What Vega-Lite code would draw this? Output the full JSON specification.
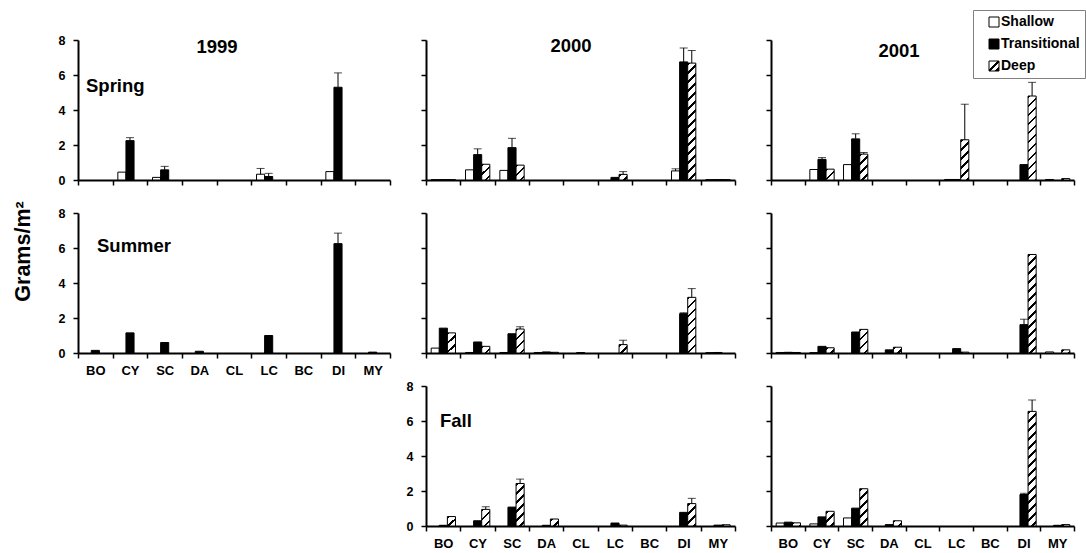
{
  "$schema": "https://vega.github.io/schema/vega-lite/v6.json",
  "background": "white",
  "padding": {"left": 12, "top": 9, "right": 0, "bottom": 0},
  "params": [
    {"name": "legendHatch", "value": {"gradient":"linear","x1":0,"y1":0,"x2":1,"y2":1,"stops":[{"offset":0,"color":"white"},{"offset":0.42,"color":"white"},{"offset":0.42,"color":"black"},{"offset":0.58,"color":"black"},{"offset":0.58,"color":"white"},{"offset":0.78,"color":"white"},{"offset":0.78,"color":"black"},{"offset":1,"color":"black"}]}},
    {"name": "hatchStops", "value": [
      {"offset":0,"color":"#000"},{"offset":0.01875,"color":"#000"},{"offset":0.01875,"color":"#fff"},{"offset":0.0625,"color":"#fff"},
      {"offset":0.0625,"color":"#000"},{"offset":0.08125,"color":"#000"},{"offset":0.08125,"color":"#fff"},{"offset":0.125,"color":"#fff"},
      {"offset":0.125,"color":"#000"},{"offset":0.14375,"color":"#000"},{"offset":0.14375,"color":"#fff"},{"offset":0.1875,"color":"#fff"},
      {"offset":0.1875,"color":"#000"},{"offset":0.20625,"color":"#000"},{"offset":0.20625,"color":"#fff"},{"offset":0.25,"color":"#fff"},
      {"offset":0.25,"color":"#000"},{"offset":0.26875,"color":"#000"},{"offset":0.26875,"color":"#fff"},{"offset":0.3125,"color":"#fff"},
      {"offset":0.3125,"color":"#000"},{"offset":0.33125,"color":"#000"},{"offset":0.33125,"color":"#fff"},{"offset":0.375,"color":"#fff"},
      {"offset":0.375,"color":"#000"},{"offset":0.39375,"color":"#000"},{"offset":0.39375,"color":"#fff"},{"offset":0.4375,"color":"#fff"},
      {"offset":0.4375,"color":"#000"},{"offset":0.45625,"color":"#000"},{"offset":0.45625,"color":"#fff"},{"offset":0.5,"color":"#fff"},
      {"offset":0.5,"color":"#000"},{"offset":0.51875,"color":"#000"},{"offset":0.51875,"color":"#fff"},{"offset":0.5625,"color":"#fff"},
      {"offset":0.5625,"color":"#000"},{"offset":0.58125,"color":"#000"},{"offset":0.58125,"color":"#fff"},{"offset":0.625,"color":"#fff"},
      {"offset":0.625,"color":"#000"},{"offset":0.64375,"color":"#000"},{"offset":0.64375,"color":"#fff"},{"offset":0.6875,"color":"#fff"},
      {"offset":0.6875,"color":"#000"},{"offset":0.70625,"color":"#000"},{"offset":0.70625,"color":"#fff"},{"offset":0.75,"color":"#fff"},
      {"offset":0.75,"color":"#000"},{"offset":0.76875,"color":"#000"},{"offset":0.76875,"color":"#fff"},{"offset":0.8125,"color":"#fff"},
      {"offset":0.8125,"color":"#000"},{"offset":0.83125,"color":"#000"},{"offset":0.83125,"color":"#fff"},{"offset":0.875,"color":"#fff"},
      {"offset":0.875,"color":"#000"},{"offset":0.89375,"color":"#000"},{"offset":0.89375,"color":"#fff"},{"offset":0.9375,"color":"#fff"},
      {"offset":0.9375,"color":"#000"},{"offset":0.95625,"color":"#000"},{"offset":0.95625,"color":"#fff"},{"offset":1,"color":"#fff"}
    ]}
  ],
  "datasets": {
    "bars": [
      {"panel":"1999 Spring","site":"CY","depth":"Shallow","value":0.45},
      {"panel":"1999 Spring","site":"CY","depth":"Transitional","value":2.25,"top":2.42},
      {"panel":"1999 Spring","site":"SC","depth":"Shallow","value":0.15},
      {"panel":"1999 Spring","site":"SC","depth":"Transitional","value":0.58,"top":0.78},
      {"panel":"1999 Spring","site":"LC","depth":"Shallow","value":0.33,"top":0.66},
      {"panel":"1999 Spring","site":"LC","depth":"Transitional","value":0.2,"top":0.38},
      {"panel":"1999 Spring","site":"DI","depth":"Shallow","value":0.48},
      {"panel":"1999 Spring","site":"DI","depth":"Transitional","value":5.3,"top":6.12},

      {"panel":"2000 Spring","site":"BO","depth":"Shallow","value":0.02},
      {"panel":"2000 Spring","site":"BO","depth":"Transitional","value":0.02},
      {"panel":"2000 Spring","site":"BO","depth":"Deep","value":0.02},
      {"panel":"2000 Spring","site":"CY","depth":"Shallow","value":0.58},
      {"panel":"2000 Spring","site":"CY","depth":"Transitional","value":1.45,"top":1.78},
      {"panel":"2000 Spring","site":"CY","depth":"Deep","value":0.9},
      {"panel":"2000 Spring","site":"SC","depth":"Shallow","value":0.55},
      {"panel":"2000 Spring","site":"SC","depth":"Transitional","value":1.85,"top":2.38},
      {"panel":"2000 Spring","site":"SC","depth":"Deep","value":0.85},
      {"panel":"2000 Spring","site":"LC","depth":"Transitional","value":0.15},
      {"panel":"2000 Spring","site":"LC","depth":"Deep","value":0.32,"top":0.48},
      {"panel":"2000 Spring","site":"DI","depth":"Shallow","value":0.52,"top":0.64},
      {"panel":"2000 Spring","site":"DI","depth":"Transitional","value":6.75,"top":7.55},
      {"panel":"2000 Spring","site":"DI","depth":"Deep","value":6.68,"top":7.4},
      {"panel":"2000 Spring","site":"MY","depth":"Shallow","value":0.02},
      {"panel":"2000 Spring","site":"MY","depth":"Transitional","value":0.02},
      {"panel":"2000 Spring","site":"MY","depth":"Deep","value":0.02},

      {"panel":"2001 Spring","site":"CY","depth":"Shallow","value":0.6},
      {"panel":"2001 Spring","site":"CY","depth":"Transitional","value":1.18,"top":1.28},
      {"panel":"2001 Spring","site":"CY","depth":"Deep","value":0.62},
      {"panel":"2001 Spring","site":"SC","depth":"Shallow","value":0.88},
      {"panel":"2001 Spring","site":"SC","depth":"Transitional","value":2.35,"top":2.64},
      {"panel":"2001 Spring","site":"SC","depth":"Deep","value":1.48,"top":1.57},
      {"panel":"2001 Spring","site":"LC","depth":"Shallow","value":0.03},
      {"panel":"2001 Spring","site":"LC","depth":"Transitional","value":0.03},
      {"panel":"2001 Spring","site":"LC","depth":"Deep","value":2.3,"top":4.33},
      {"panel":"2001 Spring","site":"DI","depth":"Transitional","value":0.88},
      {"panel":"2001 Spring","site":"DI","depth":"Deep","value":4.8,"top":5.58},
      {"panel":"2001 Spring","site":"MY","depth":"Shallow","value":0.03},
      {"panel":"2001 Spring","site":"MY","depth":"Deep","value":0.08},

      {"panel":"1999 Summer","site":"BO","depth":"Transitional","value":0.15},
      {"panel":"1999 Summer","site":"CY","depth":"Transitional","value":1.15},
      {"panel":"1999 Summer","site":"SC","depth":"Transitional","value":0.6},
      {"panel":"1999 Summer","site":"DA","depth":"Transitional","value":0.1},
      {"panel":"1999 Summer","site":"LC","depth":"Transitional","value":1.0},
      {"panel":"1999 Summer","site":"DI","depth":"Transitional","value":6.25,"top":6.85},
      {"panel":"1999 Summer","site":"MY","depth":"Transitional","value":0.05},

      {"panel":"2000 Summer","site":"BO","depth":"Shallow","value":0.28},
      {"panel":"2000 Summer","site":"BO","depth":"Transitional","value":1.42},
      {"panel":"2000 Summer","site":"BO","depth":"Deep","value":1.15},
      {"panel":"2000 Summer","site":"CY","depth":"Shallow","value":0.03},
      {"panel":"2000 Summer","site":"CY","depth":"Transitional","value":0.63},
      {"panel":"2000 Summer","site":"CY","depth":"Deep","value":0.38},
      {"panel":"2000 Summer","site":"SC","depth":"Shallow","value":0.03},
      {"panel":"2000 Summer","site":"SC","depth":"Transitional","value":1.1},
      {"panel":"2000 Summer","site":"SC","depth":"Deep","value":1.37,"top":1.5},
      {"panel":"2000 Summer","site":"DA","depth":"Shallow","value":0.03},
      {"panel":"2000 Summer","site":"DA","depth":"Transitional","value":0.06},
      {"panel":"2000 Summer","site":"DA","depth":"Deep","value":0.04},
      {"panel":"2000 Summer","site":"CL","depth":"Transitional","value":0.02},
      {"panel":"2000 Summer","site":"LC","depth":"Deep","value":0.48,"top":0.73},
      {"panel":"2000 Summer","site":"DI","depth":"Transitional","value":2.25,"top":2.3},
      {"panel":"2000 Summer","site":"DI","depth":"Deep","value":3.18,"top":3.68},
      {"panel":"2000 Summer","site":"MY","depth":"Shallow","value":0.02},
      {"panel":"2000 Summer","site":"MY","depth":"Transitional","value":0.03},

      {"panel":"2001 Summer","site":"BO","depth":"Shallow","value":0.03},
      {"panel":"2001 Summer","site":"BO","depth":"Transitional","value":0.04},
      {"panel":"2001 Summer","site":"BO","depth":"Deep","value":0.03},
      {"panel":"2001 Summer","site":"CY","depth":"Shallow","value":0.02},
      {"panel":"2001 Summer","site":"CY","depth":"Transitional","value":0.38},
      {"panel":"2001 Summer","site":"CY","depth":"Deep","value":0.3},
      {"panel":"2001 Summer","site":"SC","depth":"Transitional","value":1.2},
      {"panel":"2001 Summer","site":"SC","depth":"Deep","value":1.35},
      {"panel":"2001 Summer","site":"DA","depth":"Transitional","value":0.18},
      {"panel":"2001 Summer","site":"DA","depth":"Deep","value":0.33},
      {"panel":"2001 Summer","site":"LC","depth":"Transitional","value":0.25},
      {"panel":"2001 Summer","site":"LC","depth":"Deep","value":0.05},
      {"panel":"2001 Summer","site":"DI","depth":"Transitional","value":1.62,"top":1.93},
      {"panel":"2001 Summer","site":"DI","depth":"Deep","value":5.63},
      {"panel":"2001 Summer","site":"MY","depth":"Shallow","value":0.06},
      {"panel":"2001 Summer","site":"MY","depth":"Deep","value":0.18},

      {"panel":"2000 Fall","site":"BO","depth":"Transitional","value":0.04},
      {"panel":"2000 Fall","site":"BO","depth":"Deep","value":0.54},
      {"panel":"2000 Fall","site":"CY","depth":"Transitional","value":0.3},
      {"panel":"2000 Fall","site":"CY","depth":"Deep","value":0.95,"top":1.1},
      {"panel":"2000 Fall","site":"SC","depth":"Transitional","value":1.08},
      {"panel":"2000 Fall","site":"SC","depth":"Deep","value":2.43,"top":2.68},
      {"panel":"2000 Fall","site":"DA","depth":"Transitional","value":0.04},
      {"panel":"2000 Fall","site":"DA","depth":"Deep","value":0.4},
      {"panel":"2000 Fall","site":"LC","depth":"Transitional","value":0.17},
      {"panel":"2000 Fall","site":"LC","depth":"Deep","value":0.05},
      {"panel":"2000 Fall","site":"DI","depth":"Transitional","value":0.78},
      {"panel":"2000 Fall","site":"DI","depth":"Deep","value":1.28,"top":1.58},
      {"panel":"2000 Fall","site":"MY","depth":"Transitional","value":0.05},
      {"panel":"2000 Fall","site":"MY","depth":"Deep","value":0.07},

      {"panel":"2001 Fall","site":"BO","depth":"Shallow","value":0.17},
      {"panel":"2001 Fall","site":"BO","depth":"Transitional","value":0.22},
      {"panel":"2001 Fall","site":"BO","depth":"Deep","value":0.18},
      {"panel":"2001 Fall","site":"CY","depth":"Shallow","value":0.12},
      {"panel":"2001 Fall","site":"CY","depth":"Transitional","value":0.52},
      {"panel":"2001 Fall","site":"CY","depth":"Deep","value":0.84},
      {"panel":"2001 Fall","site":"SC","depth":"Shallow","value":0.46},
      {"panel":"2001 Fall","site":"SC","depth":"Transitional","value":1.02},
      {"panel":"2001 Fall","site":"SC","depth":"Deep","value":2.13},
      {"panel":"2001 Fall","site":"DA","depth":"Transitional","value":0.08},
      {"panel":"2001 Fall","site":"DA","depth":"Deep","value":0.3},
      {"panel":"2001 Fall","site":"DI","depth":"Transitional","value":1.8,"top":1.87},
      {"panel":"2001 Fall","site":"DI","depth":"Deep","value":6.55,"top":7.2},
      {"panel":"2001 Fall","site":"MY","depth":"Transitional","value":0.04},
      {"panel":"2001 Fall","site":"MY","depth":"Deep","value":0.08}
    ]
  },
  "columns": 3,
  "spacing": {"row": 33, "column": 36},
  "bounds": "flush",
  "align": "each",
  "concat": [
    {
      "width": 312, "height": 140,
      "layer": [
        {
          "data": {"name": "bars"},
          "transform": [{"filter": "datum.panel === '1999 Spring'"}],
          "encoding": {
            "x": {"field": "site", "type": "nominal", "scale": {"domain": ["BO","CY","SC","DA","CL","LC","BC","DI","MY"], "paddingInner": 0, "paddingOuter": 0}, "axis": {"title": null, "tickBand": "extent", "labels": false}},
            "xOffset": {"field": "depth", "type": "nominal", "scale": {"domain": ["Shallow","Transitional","Deep"], "paddingInner": 0, "paddingOuter": 0.64}}
          },
          "layer": [
            {"mark": {"type": "bar", "stroke": "black", "strokeWidth": 1},
             "encoding": {
               "y": {"field": "value", "type": "quantitative", "scale": {"domain": [0, 8], "nice": false}, "axis": {"title": null, "values": [0,2,4,6,8], "tickCount": 5, "labels": true}},
               "fill": {"field": "depth", "type": "nominal", "title": null, "scale": {"domain": ["Shallow","Transitional","Deep"], "range": ["white","black",{"expr":"legendHatch"}]},
                        "condition": {"test": "datum.depth === 'Deep'", "value": {"expr": "{gradient:'linear',x1:0,y1:0,x2:1152/(64+pow(datum.value*17.5,2)),y2:2520*datum.value/(64+pow(datum.value*17.5,2)),stops:hatchStops}"}}}
             }},
            {"transform": [{"filter": "isValid(datum.top)"}],
             "mark": {"type": "rule", "color": "black", "strokeWidth": 1},
             "encoding": {"y": {"field": "value", "type": "quantitative"}, "y2": {"field": "top"}}},
            {"transform": [{"filter": "isValid(datum.top)"}],
             "mark": {"type": "tick", "color": "black", "thickness": 1, "size": 8},
             "encoding": {"y": {"field": "top", "type": "quantitative"}}}
          ]
        },
        {"data": {"values": [{"label": "1999"}]},
         "mark": {"type": "text", "fontWeight": "bold", "fontSize": 18.5, "align": "center", "baseline": "alphabetic", "dx": -17, "color": "black"},
         "encoding": {"x": {"datum": "CL", "type": "nominal"}, "y": {"datum": 7.27, "type": "quantitative"}, "text": {"field": "label"}}},
        {"data": {"values": [{"label": "Spring"}]},
         "mark": {"type": "text", "fontWeight": "bold", "fontSize": 18.5, "align": "left", "baseline": "alphabetic", "dx": -9.3, "color": "black"},
         "encoding": {"x": {"datum": "BO", "type": "nominal"}, "y": {"datum": 5.03, "type": "quantitative"}, "text": {"field": "label"}}}
      ]
    },
    {
      "width": 309, "height": 140,
      "layer": [
        {
          "data": {"name": "bars"},
          "transform": [{"filter": "datum.panel === '2000 Spring'"}],
          "encoding": {
            "x": {"field": "site", "type": "nominal", "scale": {"domain": ["BO","CY","SC","DA","CL","LC","BC","DI","MY"], "paddingInner": 0, "paddingOuter": 0}, "axis": {"title": null, "tickBand": "extent", "labels": false}},
            "xOffset": {"field": "depth", "type": "nominal", "scale": {"domain": ["Shallow","Transitional","Deep"], "paddingInner": 0, "paddingOuter": 0.64}}
          },
          "layer": [
            {"mark": {"type": "bar", "stroke": "black", "strokeWidth": 1},
             "encoding": {
               "y": {"field": "value", "type": "quantitative", "scale": {"domain": [0, 8], "nice": false}, "axis": {"title": null, "values": [0,2,4,6,8], "tickCount": 5, "labels": false}},
               "fill": {"field": "depth", "type": "nominal", "title": null, "scale": {"domain": ["Shallow","Transitional","Deep"], "range": ["white","black",{"expr":"legendHatch"}]},
                        "condition": {"test": "datum.depth === 'Deep'", "value": {"expr": "{gradient:'linear',x1:0,y1:0,x2:1152/(64+pow(datum.value*17.5,2)),y2:2520*datum.value/(64+pow(datum.value*17.5,2)),stops:hatchStops}"}}}
             }},
            {"transform": [{"filter": "isValid(datum.top)"}],
             "mark": {"type": "rule", "color": "black", "strokeWidth": 1},
             "encoding": {"y": {"field": "value", "type": "quantitative"}, "y2": {"field": "top"}}},
            {"transform": [{"filter": "isValid(datum.top)"}],
             "mark": {"type": "tick", "color": "black", "thickness": 1, "size": 8},
             "encoding": {"y": {"field": "top", "type": "quantitative"}}}
          ]
        },
        {"data": {"values": [{"label": "2000"}]},
         "mark": {"type": "text", "fontWeight": "bold", "fontSize": 18.5, "align": "center", "baseline": "alphabetic", "dx": -9.5, "color": "black"},
         "encoding": {"x": {"datum": "CL", "type": "nominal"}, "y": {"datum": 7.33, "type": "quantitative"}, "text": {"field": "label"}}}
      ]
    },
    {
      "width": 303, "height": 140,
      "layer": [
        {
          "data": {"name": "bars"},
          "transform": [{"filter": "datum.panel === '2001 Spring'"}],
          "encoding": {
            "x": {"field": "site", "type": "nominal", "scale": {"domain": ["BO","CY","SC","DA","CL","LC","BC","DI","MY"], "paddingInner": 0, "paddingOuter": 0}, "axis": {"title": null, "tickBand": "extent", "labels": false}},
            "xOffset": {"field": "depth", "type": "nominal", "scale": {"domain": ["Shallow","Transitional","Deep"], "paddingInner": 0, "paddingOuter": 0.64}}
          },
          "layer": [
            {"mark": {"type": "bar", "stroke": "black", "strokeWidth": 1},
             "encoding": {
               "y": {"field": "value", "type": "quantitative", "scale": {"domain": [0, 8], "nice": false}, "axis": {"title": null, "values": [0,2,4,6,8], "tickCount": 5, "labels": false}},
               "fill": {"field": "depth", "type": "nominal", "title": null, "scale": {"domain": ["Shallow","Transitional","Deep"], "range": ["white","black",{"expr":"legendHatch"}]},
                        "condition": {"test": "datum.depth === 'Deep'", "value": {"expr": "{gradient:'linear',x1:0,y1:0,x2:1152/(64+pow(datum.value*17.5,2)),y2:2520*datum.value/(64+pow(datum.value*17.5,2)),stops:hatchStops}"}}}
             }},
            {"transform": [{"filter": "isValid(datum.top)"}],
             "mark": {"type": "rule", "color": "black", "strokeWidth": 1},
             "encoding": {"y": {"field": "value", "type": "quantitative"}, "y2": {"field": "top"}}},
            {"transform": [{"filter": "isValid(datum.top)"}],
             "mark": {"type": "tick", "color": "black", "thickness": 1, "size": 8},
             "encoding": {"y": {"field": "top", "type": "quantitative"}}}
          ]
        },
        {"data": {"values": [{"label": "2001"}]},
         "mark": {"type": "text", "fontWeight": "bold", "fontSize": 18.5, "align": "center", "baseline": "alphabetic", "dx": -23.5, "color": "black"},
         "encoding": {"x": {"datum": "CL", "type": "nominal"}, "y": {"datum": 7.03, "type": "quantitative"}, "text": {"field": "label"}}}
      ]
    },
    {
      "width": 312, "height": 140,
      "layer": [
        {
          "data": {"name": "bars"},
          "transform": [{"filter": "datum.panel === '1999 Summer'"}],
          "encoding": {
            "x": {"field": "site", "type": "nominal", "scale": {"domain": ["BO","CY","SC","DA","CL","LC","BC","DI","MY"], "paddingInner": 0, "paddingOuter": 0}, "axis": {"title": null, "tickBand": "extent", "labels": true}},
            "xOffset": {"field": "depth", "type": "nominal", "scale": {"domain": ["Shallow","Transitional","Deep"], "paddingInner": 0, "paddingOuter": 0.64}}
          },
          "layer": [
            {"mark": {"type": "bar", "stroke": "black", "strokeWidth": 1},
             "encoding": {
               "y": {"field": "value", "type": "quantitative", "scale": {"domain": [0, 8], "nice": false}, "axis": {"title": "Grams/m²", "titleX": -55, "titleY": 38, "titleAngle": 270, "titleBaseline": "middle", "titleAlign": "center", "titleFontSize": 21.5, "values": [0,2,4,6,8], "tickCount": 5, "labels": true}},
               "fill": {"field": "depth", "type": "nominal", "title": null, "scale": {"domain": ["Shallow","Transitional","Deep"], "range": ["white","black",{"expr":"legendHatch"}]},
                        "condition": {"test": "datum.depth === 'Deep'", "value": {"expr": "{gradient:'linear',x1:0,y1:0,x2:1152/(64+pow(datum.value*17.5,2)),y2:2520*datum.value/(64+pow(datum.value*17.5,2)),stops:hatchStops}"}}}
             }},
            {"transform": [{"filter": "isValid(datum.top)"}],
             "mark": {"type": "rule", "color": "black", "strokeWidth": 1},
             "encoding": {"y": {"field": "value", "type": "quantitative"}, "y2": {"field": "top"}}},
            {"transform": [{"filter": "isValid(datum.top)"}],
             "mark": {"type": "tick", "color": "black", "thickness": 1, "size": 8},
             "encoding": {"y": {"field": "top", "type": "quantitative"}}}
          ]
        },
        {"data": {"values": [{"label": "Summer"}]},
         "mark": {"type": "text", "fontWeight": "bold", "fontSize": 18.5, "align": "left", "baseline": "alphabetic", "dx": 1.7, "color": "black"},
         "encoding": {"x": {"datum": "BO", "type": "nominal"}, "y": {"datum": 5.8, "type": "quantitative"}, "text": {"field": "label"}}}
      ]
    },
    {
      "width": 309, "height": 140,
      "layer": [
        {
          "data": {"name": "bars"},
          "transform": [{"filter": "datum.panel === '2000 Summer'"}],
          "encoding": {
            "x": {"field": "site", "type": "nominal", "scale": {"domain": ["BO","CY","SC","DA","CL","LC","BC","DI","MY"], "paddingInner": 0, "paddingOuter": 0}, "axis": {"title": null, "tickBand": "extent", "labels": false}},
            "xOffset": {"field": "depth", "type": "nominal", "scale": {"domain": ["Shallow","Transitional","Deep"], "paddingInner": 0, "paddingOuter": 0.64}}
          },
          "layer": [
            {"mark": {"type": "bar", "stroke": "black", "strokeWidth": 1},
             "encoding": {
               "y": {"field": "value", "type": "quantitative", "scale": {"domain": [0, 8], "nice": false}, "axis": {"title": null, "values": [0,2,4,6,8], "tickCount": 5, "labels": false}},
               "fill": {"field": "depth", "type": "nominal", "title": null, "scale": {"domain": ["Shallow","Transitional","Deep"], "range": ["white","black",{"expr":"legendHatch"}]},
                        "condition": {"test": "datum.depth === 'Deep'", "value": {"expr": "{gradient:'linear',x1:0,y1:0,x2:1152/(64+pow(datum.value*17.5,2)),y2:2520*datum.value/(64+pow(datum.value*17.5,2)),stops:hatchStops}"}}}
             }},
            {"transform": [{"filter": "isValid(datum.top)"}],
             "mark": {"type": "rule", "color": "black", "strokeWidth": 1},
             "encoding": {"y": {"field": "value", "type": "quantitative"}, "y2": {"field": "top"}}},
            {"transform": [{"filter": "isValid(datum.top)"}],
             "mark": {"type": "tick", "color": "black", "thickness": 1, "size": 8},
             "encoding": {"y": {"field": "top", "type": "quantitative"}}}
          ]
        }
      ]
    },
    {
      "width": 303, "height": 140,
      "layer": [
        {
          "data": {"name": "bars"},
          "transform": [{"filter": "datum.panel === '2001 Summer'"}],
          "encoding": {
            "x": {"field": "site", "type": "nominal", "scale": {"domain": ["BO","CY","SC","DA","CL","LC","BC","DI","MY"], "paddingInner": 0, "paddingOuter": 0}, "axis": {"title": null, "tickBand": "extent", "labels": false}},
            "xOffset": {"field": "depth", "type": "nominal", "scale": {"domain": ["Shallow","Transitional","Deep"], "paddingInner": 0, "paddingOuter": 0.64}}
          },
          "layer": [
            {"mark": {"type": "bar", "stroke": "black", "strokeWidth": 1},
             "encoding": {
               "y": {"field": "value", "type": "quantitative", "scale": {"domain": [0, 8], "nice": false}, "axis": {"title": null, "values": [0,2,4,6,8], "tickCount": 5, "labels": false}},
               "fill": {"field": "depth", "type": "nominal", "title": null, "scale": {"domain": ["Shallow","Transitional","Deep"], "range": ["white","black",{"expr":"legendHatch"}]},
                        "condition": {"test": "datum.depth === 'Deep'", "value": {"expr": "{gradient:'linear',x1:0,y1:0,x2:1152/(64+pow(datum.value*17.5,2)),y2:2520*datum.value/(64+pow(datum.value*17.5,2)),stops:hatchStops}"}}}
             }},
            {"transform": [{"filter": "isValid(datum.top)"}],
             "mark": {"type": "rule", "color": "black", "strokeWidth": 1},
             "encoding": {"y": {"field": "value", "type": "quantitative"}, "y2": {"field": "top"}}},
            {"transform": [{"filter": "isValid(datum.top)"}],
             "mark": {"type": "tick", "color": "black", "thickness": 1, "size": 8},
             "encoding": {"y": {"field": "top", "type": "quantitative"}}}
          ]
        }
      ]
    },
    {
      "width": 312, "height": 140,
      "data": {"values": [{"label": ""}]},
      "mark": {"type": "text"},
      "encoding": {"text": {"field": "label"}}
    },
    {
      "width": 309, "height": 140,
      "layer": [
        {
          "data": {"name": "bars"},
          "transform": [{"filter": "datum.panel === '2000 Fall'"}],
          "encoding": {
            "x": {"field": "site", "type": "nominal", "scale": {"domain": ["BO","CY","SC","DA","CL","LC","BC","DI","MY"], "paddingInner": 0, "paddingOuter": 0}, "axis": {"title": null, "tickBand": "extent", "labels": true}},
            "xOffset": {"field": "depth", "type": "nominal", "scale": {"domain": ["Shallow","Transitional","Deep"], "paddingInner": 0, "paddingOuter": 0.64}}
          },
          "layer": [
            {"mark": {"type": "bar", "stroke": "black", "strokeWidth": 1},
             "encoding": {
               "y": {"field": "value", "type": "quantitative", "scale": {"domain": [0, 8], "nice": false}, "axis": {"title": null, "values": [0,2,4,6,8], "tickCount": 5, "labels": true}},
               "fill": {"field": "depth", "type": "nominal", "title": null, "scale": {"domain": ["Shallow","Transitional","Deep"], "range": ["white","black",{"expr":"legendHatch"}]},
                        "condition": {"test": "datum.depth === 'Deep'", "value": {"expr": "{gradient:'linear',x1:0,y1:0,x2:1152/(64+pow(datum.value*17.5,2)),y2:2520*datum.value/(64+pow(datum.value*17.5,2)),stops:hatchStops}"}}}
             }},
            {"transform": [{"filter": "isValid(datum.top)"}],
             "mark": {"type": "rule", "color": "black", "strokeWidth": 1},
             "encoding": {"y": {"field": "value", "type": "quantitative"}, "y2": {"field": "top"}}},
            {"transform": [{"filter": "isValid(datum.top)"}],
             "mark": {"type": "tick", "color": "black", "thickness": 1, "size": 8},
             "encoding": {"y": {"field": "top", "type": "quantitative"}}}
          ]
        },
        {"data": {"values": [{"label": "Fall"}]},
         "mark": {"type": "text", "fontWeight": "bold", "fontSize": 18.5, "align": "left", "baseline": "alphabetic", "dx": -3.2, "color": "black"},
         "encoding": {"x": {"datum": "BO", "type": "nominal"}, "y": {"datum": 5.63, "type": "quantitative"}, "text": {"field": "label"}}}
      ]
    },
    {
      "width": 303, "height": 140,
      "layer": [
        {
          "data": {"name": "bars"},
          "transform": [{"filter": "datum.panel === '2001 Fall'"}],
          "encoding": {
            "x": {"field": "site", "type": "nominal", "scale": {"domain": ["BO","CY","SC","DA","CL","LC","BC","DI","MY"], "paddingInner": 0, "paddingOuter": 0}, "axis": {"title": null, "tickBand": "extent", "labels": true}},
            "xOffset": {"field": "depth", "type": "nominal", "scale": {"domain": ["Shallow","Transitional","Deep"], "paddingInner": 0, "paddingOuter": 0.64}}
          },
          "layer": [
            {"mark": {"type": "bar", "stroke": "black", "strokeWidth": 1},
             "encoding": {
               "y": {"field": "value", "type": "quantitative", "scale": {"domain": [0, 8], "nice": false}, "axis": {"title": null, "values": [0,2,4,6,8], "tickCount": 5, "labels": false}},
               "fill": {"field": "depth", "type": "nominal", "title": null, "scale": {"domain": ["Shallow","Transitional","Deep"], "range": ["white","black",{"expr":"legendHatch"}]},
                        "condition": {"test": "datum.depth === 'Deep'", "value": {"expr": "{gradient:'linear',x1:0,y1:0,x2:1152/(64+pow(datum.value*17.5,2)),y2:2520*datum.value/(64+pow(datum.value*17.5,2)),stops:hatchStops}"}}}
             }},
            {"transform": [{"filter": "isValid(datum.top)"}],
             "mark": {"type": "rule", "color": "black", "strokeWidth": 1},
             "encoding": {"y": {"field": "value", "type": "quantitative"}, "y2": {"field": "top"}}},
            {"transform": [{"filter": "isValid(datum.top)"}],
             "mark": {"type": "tick", "color": "black", "thickness": 1, "size": 8},
             "encoding": {"y": {"field": "top", "type": "quantitative"}}}
          ]
        }
      ]
    }
  ],
  "config": {
    "font": "Liberation Sans",
    "view": {"stroke": null},
    "axis": {"grid": false, "domain": true, "ticks": true, "zindex": 1, "domainColor": "black", "domainWidth": 2, "domainOpacity": 1, "tickColor": "black", "tickOpacity": 1, "tickWidth": 1.5, "tickSize": 5, "labelFont": "Liberation Sans", "labelFontWeight": "bold", "labelColor": "black", "labelFontSize": 13, "titleFont": "Liberation Sans", "titleFontWeight": "bold", "titleColor": "black"},
    "axisX": {"labelPadding": 6, "labelAngle": 0},
    "axisY": {"labelPadding": 8, "labelFontSize": 12.5, "tickCount": 5, "labelOverlap": false},
    "legend": {"orient": "none", "legendX": 895, "legendY": -30, "labelFont": "Liberation Sans", "labelFontWeight": "bold", "labelFontSize": 14, "labelColor": "black", "symbolType": "square", "symbolSize": 100, "symbolStrokeColor": "black", "symbolStrokeWidth": 1, "rowPadding": 8, "strokeColor": "#808080", "padding": 5, "symbolOffset": 9, "labelOffset": 0}
  }
}
